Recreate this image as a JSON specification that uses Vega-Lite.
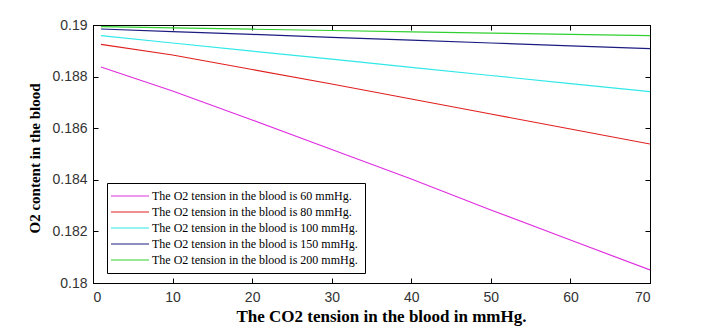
{
  "$schema": "https://vega.github.io/schema/vega-lite/v6.json",
  "width": 557,
  "height": 258,
  "autosize": {"type": "none"},
  "padding": {"left": 93, "top": 25, "right": 69, "bottom": 45},
  "background": "white",
  "config": {
    "view": {"stroke": "black", "strokeWidth": 1},
    "axis": {
      "grid": false,
      "domainColor": "black",
      "tickColor": "black",
      "labelFont": "Liberation Sans",
      "labelFontSize": 14,
      "labelColor": "#333333",
      "titleFont": "Liberation Serif",
      "titleFontWeight": "bold",
      "titleColor": "black",
      "tickSize": -5
    }
  },
  "data": {
    "values": [
      {"s": "The O2 tension in the blood is 60 mmHg.", "x": 1, "y": 0.188372},
      {"s": "The O2 tension in the blood is 60 mmHg.", "x": 10, "y": 0.187442},
      {"s": "The O2 tension in the blood is 60 mmHg.", "x": 20, "y": 0.186318},
      {"s": "The O2 tension in the blood is 60 mmHg.", "x": 30, "y": 0.185174},
      {"s": "The O2 tension in the blood is 60 mmHg.", "x": 40, "y": 0.184031},
      {"s": "The O2 tension in the blood is 60 mmHg.", "x": 50, "y": 0.182829},
      {"s": "The O2 tension in the blood is 60 mmHg.", "x": 60, "y": 0.181667},
      {"s": "The O2 tension in the blood is 60 mmHg.", "x": 70, "y": 0.180504},
      {"s": "The O2 tension in the blood is 80 mmHg.", "x": 1, "y": 0.189252},
      {"s": "The O2 tension in the blood is 80 mmHg.", "x": 10, "y": 0.188837},
      {"s": "The O2 tension in the blood is 80 mmHg.", "x": 20, "y": 0.188275},
      {"s": "The O2 tension in the blood is 80 mmHg.", "x": 30, "y": 0.187713},
      {"s": "The O2 tension in the blood is 80 mmHg.", "x": 40, "y": 0.187132},
      {"s": "The O2 tension in the blood is 80 mmHg.", "x": 50, "y": 0.18655},
      {"s": "The O2 tension in the blood is 80 mmHg.", "x": 60, "y": 0.185969},
      {"s": "The O2 tension in the blood is 80 mmHg.", "x": 70, "y": 0.185388},
      {"s": "The O2 tension in the blood is 100 mmHg.", "x": 1, "y": 0.189585},
      {"s": "The O2 tension in the blood is 100 mmHg.", "x": 10, "y": 0.189302},
      {"s": "The O2 tension in the blood is 100 mmHg.", "x": 20, "y": 0.188988},
      {"s": "The O2 tension in the blood is 100 mmHg.", "x": 30, "y": 0.188674},
      {"s": "The O2 tension in the blood is 100 mmHg.", "x": 40, "y": 0.188357},
      {"s": "The O2 tension in the blood is 100 mmHg.", "x": 50, "y": 0.188043},
      {"s": "The O2 tension in the blood is 100 mmHg.", "x": 60, "y": 0.187729},
      {"s": "The O2 tension in the blood is 100 mmHg.", "x": 70, "y": 0.187415},
      {"s": "The O2 tension in the blood is 150 mmHg.", "x": 1, "y": 0.189845},
      {"s": "The O2 tension in the blood is 150 mmHg.", "x": 10, "y": 0.189744},
      {"s": "The O2 tension in the blood is 150 mmHg.", "x": 20, "y": 0.189636},
      {"s": "The O2 tension in the blood is 150 mmHg.", "x": 30, "y": 0.189523},
      {"s": "The O2 tension in the blood is 150 mmHg.", "x": 40, "y": 0.189415},
      {"s": "The O2 tension in the blood is 150 mmHg.", "x": 50, "y": 0.189302},
      {"s": "The O2 tension in the blood is 150 mmHg.", "x": 60, "y": 0.189194},
      {"s": "The O2 tension in the blood is 150 mmHg.", "x": 70, "y": 0.189081},
      {"s": "The O2 tension in the blood is 200 mmHg.", "x": 1, "y": 0.189934},
      {"s": "The O2 tension in the blood is 200 mmHg.", "x": 10, "y": 0.189888},
      {"s": "The O2 tension in the blood is 200 mmHg.", "x": 20, "y": 0.189837},
      {"s": "The O2 tension in the blood is 200 mmHg.", "x": 30, "y": 0.189787},
      {"s": "The O2 tension in the blood is 200 mmHg.", "x": 40, "y": 0.189736},
      {"s": "The O2 tension in the blood is 200 mmHg.", "x": 50, "y": 0.189686},
      {"s": "The O2 tension in the blood is 200 mmHg.", "x": 60, "y": 0.189636},
      {"s": "The O2 tension in the blood is 200 mmHg.", "x": 70, "y": 0.189585}
    ]
  },
  "layer": [
    {
      "mark": {"type": "line", "strokeWidth": 1.2, "clip": true},
      "encoding": {
        "x": {
          "field": "x", "type": "quantitative",
          "scale": {"domain": [0, 70], "nice": false, "zero": false},
          "axis": {"values": [0, 10, 20, 30, 40, 50, 60, 70], "title": "The CO2 tension in the blood in mmHg.", "titleFontSize": 17, "titleX": 288, "labelPadding": 12, "titlePadding": 4}
        },
        "y": {
          "field": "y", "type": "quantitative",
          "scale": {"domain": [0.18, 0.19], "nice": false, "zero": false},
          "axis": {"values": [0.18, 0.182, 0.184, 0.186, 0.188, 0.19], "format": "~g", "title": "O2 content in the blood", "titleFontSize": 15, "titleY": 133, "labelPadding": 11, "titlePadding": 9}
        },
        "color": {
          "field": "s", "type": "nominal",
          "scale": {
            "domain": [
              "The O2 tension in the blood is 60 mmHg.",
              "The O2 tension in the blood is 80 mmHg.",
              "The O2 tension in the blood is 100 mmHg.",
              "The O2 tension in the blood is 150 mmHg.",
              "The O2 tension in the blood is 200 mmHg."
            ],
            "range": ["#e02ee0", "#e02020", "#30e8e8", "#1c1c80", "#30d030"]
          },
          "legend": {
            "title": null,
            "orient": "none",
            "legendX": 14,
            "legendY": 158,
            "strokeColor": "black",
            "fillColor": "white",
            "padding": 7,
            "symbolType": "M-9.5,0H9.5",
            "symbolSize": 16,
            "symbolOffset": 10,
            "symbolStrokeWidth": 1.2,
            "labelOffset": 16,
            "labelFont": "Liberation Serif",
            "labelFontSize": 12,
            "labelColor": "black",
            "labelLimit": 300,
            "rowPadding": 4
          }
        }
      }
    },
    {
      "mark": {"type": "line", "opacity": 0},
      "encoding": {
        "x": {
          "field": "x", "type": "quantitative",
          "scale": {"domain": [0, 70], "nice": false, "zero": false},
          "axis": {"orient": "top", "values": [0, 10, 20, 30, 40, 50, 60, 70], "labels": false, "title": null}
        },
        "y": {
          "field": "y", "type": "quantitative",
          "scale": {"domain": [0.18, 0.19], "nice": false, "zero": false},
          "axis": {"orient": "right", "values": [0.18, 0.182, 0.184, 0.186, 0.188, 0.19], "labels": false, "title": null}
        },
        "detail": {"field": "s", "type": "nominal"}
      }
    }
  ],
  "resolve": {"axis": {"x": "independent", "y": "independent"}}
}
